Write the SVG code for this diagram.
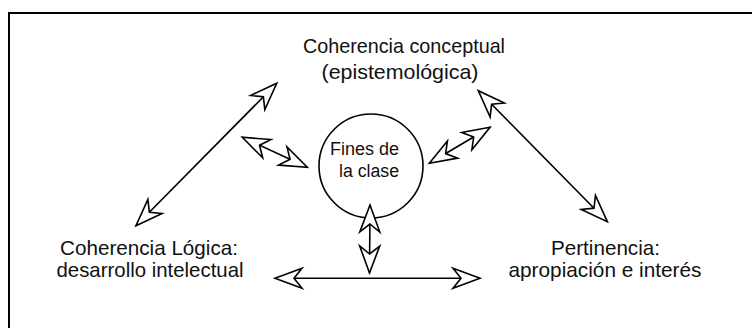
<svg xmlns="http://www.w3.org/2000/svg" width="752" height="328" viewBox="0 0 752 328">
  <style>
    .frame { fill: none; stroke: #000; stroke-width: 2; }
    .label { font-family: "Liberation Sans", Arial, sans-serif; font-size: 21px; fill: #111; text-anchor: middle; }
    .inner { font-size: 18px; }
    .node { fill: #fff; stroke: #000; stroke-width: 1.6; }
    .link { fill: none; stroke: #000; stroke-width: 1.6; marker-start: url(#head); marker-end: url(#head); }
  </style>
  <defs>
    <!-- open, notched arrowhead; white fill hides the shaft under it -->
    <marker id="head" markerUnits="userSpaceOnUse" viewBox="-30 -15 34 30" markerWidth="34" markerHeight="30" refX="0" refY="0" orient="auto-start-reverse" overflow="visible">
      <path d="M0,0 L-27,-10 L-19,0 L-27,10 Z" fill="#fff" stroke="#000" stroke-width="1.6" stroke-linejoin="miter"/>
    </marker>
  </defs>

  <rect width="752" height="328" fill="#fff"/>
  <path class="frame" d="M9,328 V13 H752"/>

  <g id="conceptual">
    <text class="label" x="404" y="53" textLength="202" lengthAdjust="spacingAndGlyphs">Coherencia conceptual</text>
    <text class="label" x="400" y="79" textLength="157" lengthAdjust="spacingAndGlyphs">(epistemológica)</text>
  </g>

  <g id="logica">
    <text class="label" x="149" y="255" textLength="178" lengthAdjust="spacingAndGlyphs">Coherencia Lógica:</text>
    <text class="label" x="150" y="277" textLength="187" lengthAdjust="spacingAndGlyphs">desarrollo intelectual</text>
  </g>

  <g id="pertinencia">
    <text class="label" x="605.5" y="255" textLength="109" lengthAdjust="spacingAndGlyphs">Pertinencia:</text>
    <text class="label" x="605" y="277" textLength="193" lengthAdjust="spacingAndGlyphs">apropiación e interés</text>
  </g>

  <g id="fines">
    <circle class="node" cx="371" cy="166" r="52"/>
    <text class="label inner" x="364.5" y="155" textLength="69" lengthAdjust="spacingAndGlyphs">Fines de</text>
    <text class="label inner" x="369" y="177" textLength="60" lengthAdjust="spacingAndGlyphs">la clase</text>
  </g>

  <g id="connectors">
    <line class="link" x1="136" y1="225.7" x2="276.7" y2="83.3"/>
    <line class="link" x1="242.3" y1="137.3" x2="307.3" y2="167.3"/>
    <line class="link" x1="429.3" y1="163.3" x2="490" y2="127.3"/>
    <line class="link" x1="478.3" y1="90.7" x2="607.3" y2="221.7"/>
    <line class="link" x1="370" y1="205" x2="369.5" y2="273"/>
    <line class="link" x1="275" y1="278.3" x2="480" y2="278.3"/>
  </g>
</svg>
